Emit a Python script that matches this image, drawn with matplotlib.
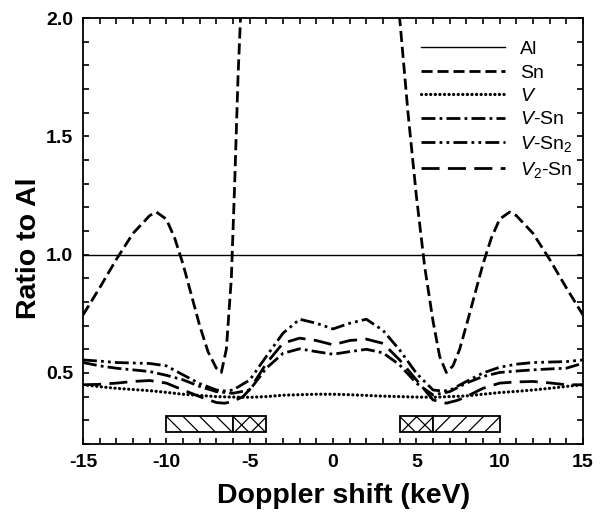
"""Ratio-to-Al Doppler broadening spectra for vacancy-Sn complexes."""

import matplotlib

matplotlib.use("Agg")
import matplotlib.pyplot as plt
from matplotlib.ticker import FormatStrFormatter, MultipleLocator

plt.rcParams["font.family"] = ["Liberation Sans", "DejaVu Sans"]
plt.rcParams["mathtext.fontset"] = "custom"
plt.rcParams["mathtext.rm"] = "Liberation Sans"
plt.rcParams["mathtext.it"] = "Liberation Sans:italic"
plt.rcParams["axes.unicode_minus"] = False
plt.rcParams["lines.scale_dashes"] = False
plt.rcParams["hatch.linewidth"] = 0.9

# --- data ---
al_x = [-15, 15]
al_y = [1.0, 1.0]

sn_x = [-15, -14, -13, -12, -11, -10.6, -10, -9.5, -9, -8.5, -8, -7.5, -7, -6.7,
        -6.4, -6.1, -5.9, -5.7, -5.55, -5.4, 0,
        3.8, 4, 4.5, 5, 5.5, 6, 6.4, 6.8, 7.2, 7.6, 8, 8.5, 9, 9.5, 10,
        10.6, 11, 12, 13, 14, 15]
sn_y = [0.745, 0.86, 0.98, 1.09, 1.165, 1.18, 1.15, 1.07, 0.96, 0.83, 0.7, 0.59, 0.52, 0.502,
        0.6, 0.9, 1.3, 1.75, 2.0, 2.5, 4.0,
        2.5, 2.0, 1.6, 1.25, 0.95, 0.72, 0.57, 0.502, 0.53, 0.6, 0.7, 0.83, 0.96, 1.07, 1.15,
        1.18, 1.165, 1.09, 0.98, 0.86, 0.745]

v_x = list(range(-15, 16))
v_y = [0.45, 0.442, 0.435, 0.43, 0.425, 0.418, 0.41, 0.405, 0.4, 0.398, 0.397, 0.4, 0.406,
       0.408, 0.41, 0.41, 0.408, 0.405, 0.402, 0.4, 0.398, 0.397, 0.4, 0.403, 0.41, 0.417,
       0.422, 0.428, 0.435, 0.443, 0.45]

vsn_x = [-15, -14, -13, -12, -11, -10, -9, -8, -7, -6, -5, -4, -3, -2, -1, 0,
         1, 2, 3, 4, 5, 6, 7, 8, 9, 10, 11, 12, 13, 14, 15]
vsn_y = [0.544, 0.53, 0.52, 0.513, 0.506, 0.49, 0.471, 0.443, 0.421, 0.414, 0.428, 0.52,
         0.583, 0.602, 0.59, 0.579, 0.59, 0.6, 0.585, 0.534, 0.457, 0.407, 0.421, 0.457,
         0.485, 0.502, 0.508, 0.513, 0.517, 0.52, 0.541]

vsn2_x = [-15, -14, -13, -12, -11, -10, -9, -8, -7, -6.5, -6, -5, -4, -3, -2, -1, 0,
          1, 2, 3, 4, 5, 6, 6.5, 7, 8, 9, 10, 11, 12, 13, 14, 15]
vsn2_y = [0.555, 0.55, 0.544, 0.542, 0.54, 0.53, 0.492, 0.455, 0.428, 0.424, 0.428, 0.47,
          0.57, 0.668, 0.727, 0.71, 0.686, 0.71, 0.727, 0.68, 0.597, 0.499, 0.428, 0.424,
          0.426, 0.464, 0.5, 0.524, 0.537, 0.544, 0.546, 0.548, 0.555]

v2sn_x = [-15, -14, -13, -12, -11, -10, -9, -8, -7, -6.5, -6, -5.4, -5, -4, -3, -2, -1, 0,
          1, 2, 3, 4, 5, 6, 6.8, 7.5, 8, 9, 10, 11, 12, 13, 14, 15]
v2sn_y = [0.45, 0.452, 0.457, 0.464, 0.468, 0.457, 0.428, 0.4, 0.375, 0.372, 0.38, 0.4,
          0.43, 0.54, 0.626, 0.647, 0.637, 0.619, 0.637, 0.643, 0.625, 0.555, 0.471, 0.386,
          0.372, 0.385, 0.4, 0.435, 0.457, 0.462, 0.464, 0.458, 0.45, 0.45]

# momentum windows shown as hatched boxes
box_left = [-10, -6, 4, 6]
box_width = [4, 2, 2, 4]
box_hatch = ["\\\\", "xx", "xx", "//"]
box_bottom = 0.25
box_height = 0.07

fig = plt.figure(figsize=(6.06, 5.15), dpi=100)
ax = fig.add_axes([0.137, 0.138, 0.825, 0.827])

ax.plot(al_x, al_y, color="black", lw=1.0, label="Al")
ax.plot(sn_x, sn_y, color="black", lw=2.0, dashes=(8, 3.5), label="Sn")
ax.plot(v_x, v_y, color="black", lw=2.3, dashes=(0.1, 3.2), dash_capstyle="round",
        label=r"$\mathit{V}$")
ax.plot(vsn_x, vsn_y, color="black", lw=2.0, dashes=(10, 3, 2, 3), label=r"$\mathit{V}$-Sn")
ax.plot(vsn2_x, vsn2_y, color="black", lw=2.0, dashes=(10, 3, 2, 3, 2, 3),
        label=r"$\mathit{V}$-Sn$_2$")
ax.plot(v2sn_x, v2sn_y, color="black", lw=2.0, dashes=(13, 6), label=r"$\mathit{V}_2$-Sn")

ax.bar(box_left, box_height, width=box_width, bottom=box_bottom, align="edge",
       color="white", edgecolor="black", linewidth=1.3, hatch=box_hatch)

ax.set_xlim(-15, 15)
ax.set_ylim(0.2, 2.0)
ax.xaxis.set_major_locator(MultipleLocator(5))
ax.xaxis.set_minor_locator(MultipleLocator(1))
ax.yaxis.set_major_locator(MultipleLocator(0.5))
ax.yaxis.set_minor_locator(MultipleLocator(0.1))
ax.yaxis.set_major_formatter(FormatStrFormatter("%.1f"))
ax.tick_params(which="both", direction="in", top=True, right=True, width=1.2, length=4)
ax.tick_params(labelsize=14, pad=7)
for lab in ax.get_xticklabels() + ax.get_yticklabels():
    lab.set_fontweight("bold")
for sp in ax.spines.values():
    sp.set_linewidth(1.3)

ax.set_xlabel("Doppler shift (keV)", fontsize=20.5, fontweight="bold")
ax.set_ylabel("Ratio to Al", fontsize=20.5, fontweight="bold")
ax.xaxis.set_label_coords(0.522, -0.092)
ax.yaxis.set_label_coords(-0.082, 0.46)

ax.legend(loc="upper left", bbox_to_anchor=(0.657, 0.97), frameon=False, fontsize=14,
          handlelength=4.3, handletextpad=0.8, labelspacing=0.3, borderpad=0)

fig.savefig("out.png", dpi=100)
